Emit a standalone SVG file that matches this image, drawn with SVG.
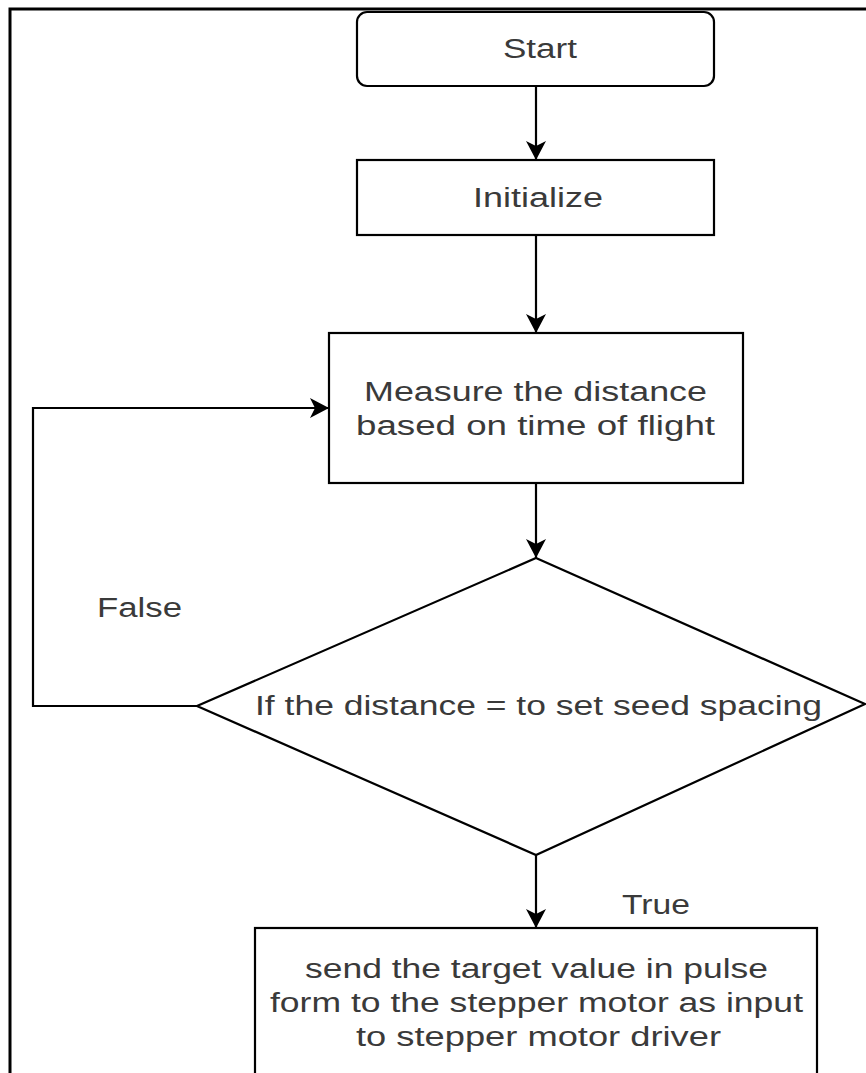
<svg xmlns="http://www.w3.org/2000/svg" width="866" height="1073" viewBox="0 0 866 1073">
<style>
.shape{fill:#fff;stroke:#000;stroke-width:2.2}
.edge{fill:none;stroke:#000;stroke-width:2.2}
.frame{fill:none;stroke:#000;stroke-width:3}
text{font-family:"Liberation Sans",Arial,sans-serif;font-size:27px;fill:#3a3a3a;text-anchor:middle;dominant-baseline:central}
</style>
<defs>
<marker id="arr" markerUnits="userSpaceOnUse" markerWidth="22" markerHeight="22" viewBox="-20 -11 22 22" refX="0" refY="0" orient="auto">
<path d="M0,0 L-19,-10 L-14,0 L-19,10 Z" fill="#000"/>
</marker>
</defs>
<rect width="866" height="1073" fill="#fff"/>
<path class="frame" d="M10,1073 V9 H866"/>
<g id="connectors">
<line class="edge" x1="536" y1="86" x2="536" y2="160" marker-end="url(#arr)"/>
<line class="edge" x1="536" y1="235" x2="536" y2="333" marker-end="url(#arr)"/>
<line class="edge" x1="536" y1="483" x2="536" y2="558" marker-end="url(#arr)"/>
<line class="edge" x1="536" y1="855" x2="536" y2="928" marker-end="url(#arr)"/>
<path class="edge" d="M197,706 H33 V408 H329" marker-end="url(#arr)"/>
<text x="139.5" y="608" textLength="85" lengthAdjust="spacingAndGlyphs">False</text>
<text x="656" y="905" textLength="68" lengthAdjust="spacingAndGlyphs">True</text>
</g>
<g id="start">
<rect class="shape" x="357" y="12" width="357" height="74" rx="10"/>
<text x="540" y="49" textLength="74" lengthAdjust="spacingAndGlyphs">Start</text>
</g>
<g id="initialize">
<rect class="shape" x="357" y="160" width="357" height="75"/>
<text x="538" y="198" textLength="130" lengthAdjust="spacingAndGlyphs">Initialize</text>
</g>
<g id="measure">
<rect class="shape" x="329" y="333" width="414" height="150"/>
<text x="535.5" y="392" textLength="343" lengthAdjust="spacingAndGlyphs">Measure the distance</text>
<text x="535.5" y="426" textLength="359" lengthAdjust="spacingAndGlyphs">based on time of flight</text>
</g>
<g id="decision">
<polygon class="shape" points="536,558 865,704 536,855 197,706"/>
<text x="538.5" y="706" textLength="567" lengthAdjust="spacingAndGlyphs">If the distance = to set seed spacing</text>
</g>
<g id="send">
<rect class="shape" x="255" y="928" width="562" height="160"/>
<text x="536.5" y="969" textLength="463" lengthAdjust="spacingAndGlyphs">send the target value in pulse</text>
<text x="536.5" y="1003" textLength="533" lengthAdjust="spacingAndGlyphs">form to the stepper motor as input</text>
<text x="538.5" y="1037" textLength="365" lengthAdjust="spacingAndGlyphs">to stepper motor driver</text>
</g>
</svg>
